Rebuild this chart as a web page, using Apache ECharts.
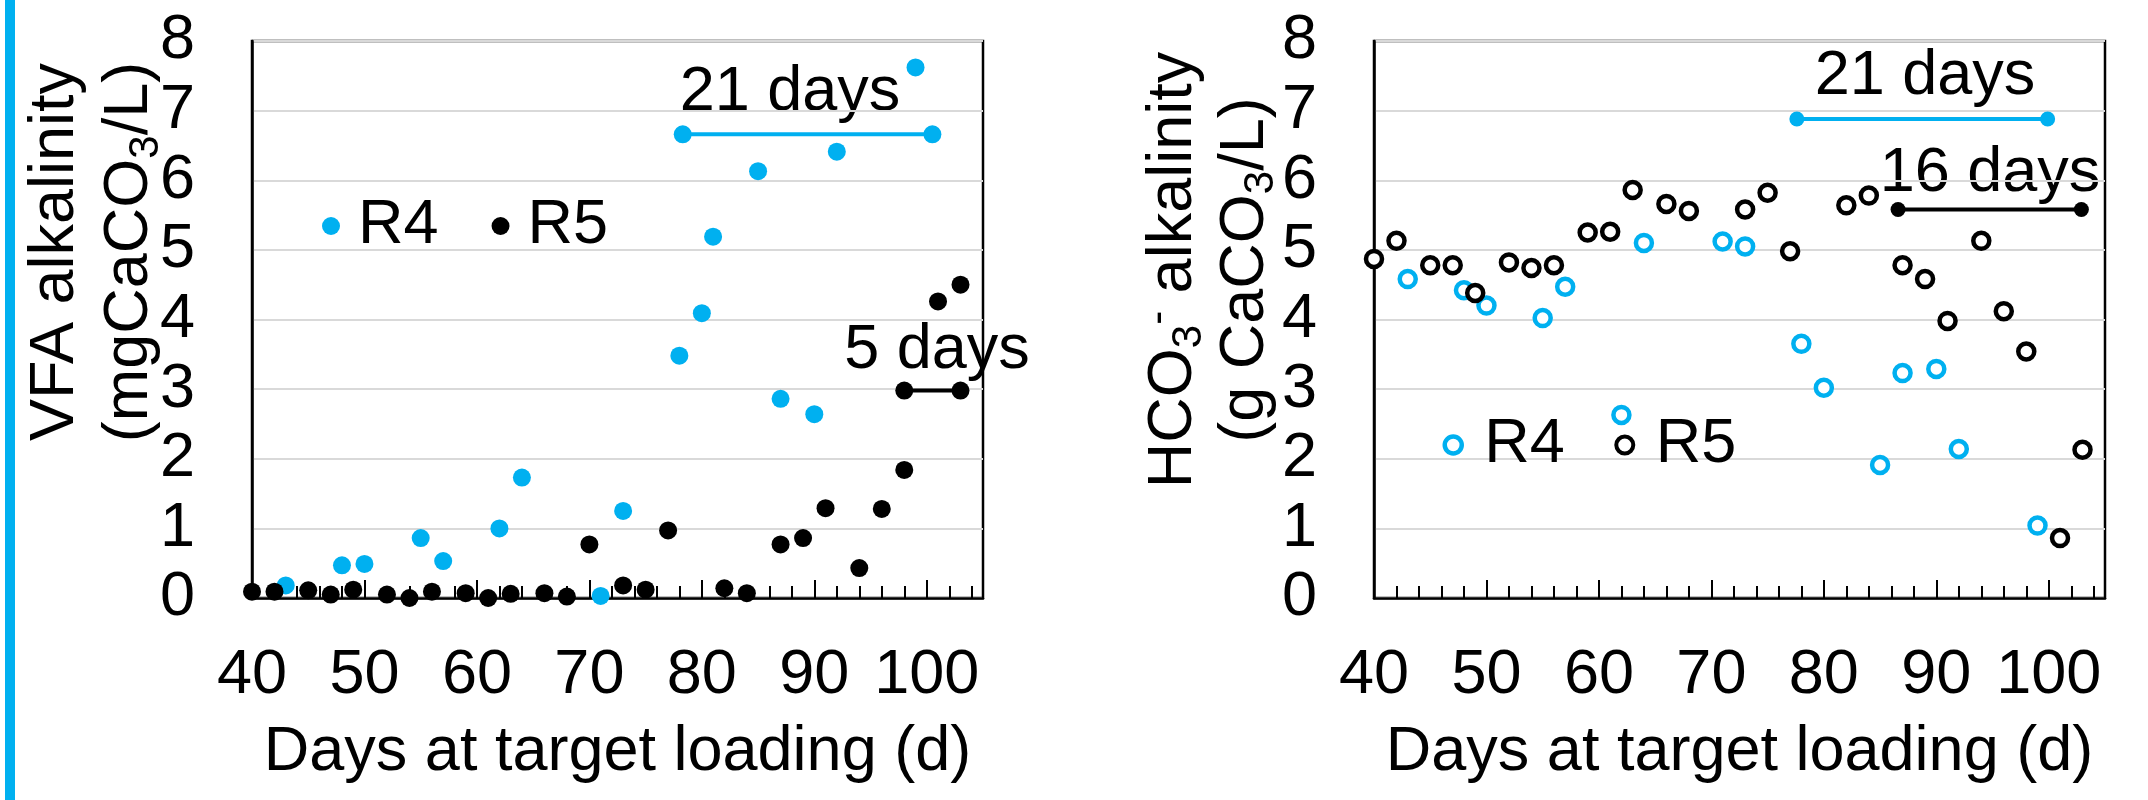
<!DOCTYPE html>
<html>
<head>
<meta charset="utf-8">
<script src="https://cdn.jsdelivr.net/npm/echarts@6/dist/echarts.min.js"></script>
<style>
html, body { margin: 0; padding: 0; background: #fff; }
#chart { width: 2148px; height: 800px; }
</style>
</head>
<body>
<div id="chart"></div>
<script>
var FONT = "'Liberation Sans', Arial, sans-serif";
var BLUE = '#00B0F0';

// left panel: VFA alkalinity, [day, value]
var vfaR4 = [[43, 0.18], [48, 0.47], [50, 0.49], [55, 0.86], [57, 0.53], [62, 1.0], [64, 1.73],
    [71, 0.03], [73, 1.25], [78, 3.48], [80, 4.09], [81, 5.19], [85, 6.13], [87, 2.86],
    [90, 2.64], [92, 6.41], [99, 7.62]];
var vfaR5 = [[40, 0.09], [42, 0.09], [45, 0.11], [47, 0.05], [49, 0.12], [52, 0.05], [54, 0.0],
    [56, 0.09], [59, 0.07], [61, 0.0], [63, 0.06], [66, 0.07], [68, 0.02], [70, 0.77],
    [73, 0.18], [75, 0.12], [77, 0.97], [82, 0.14], [84, 0.07], [87, 0.77], [89, 0.86],
    [91, 1.29], [94, 0.43], [96, 1.28], [98, 1.84], [101, 4.26], [103, 4.5]];
var vfaR4Span = [[78.3, 6.66], [100.5, 6.66]];   // "21 days"
var vfaR5Span = [[98, 2.98], [103, 2.98]];       // "5 days"

// right panel: HCO3- alkalinity, [day, value]
var hcoR4 = [[43, 4.58], [48, 4.42], [50, 4.20], [55, 4.02], [57, 4.47], [62, 2.63], [64, 5.10],
    [71, 5.12], [73, 5.05], [78, 3.65], [80, 3.02], [85, 1.91], [87, 3.23], [90, 3.29],
    [92, 2.14], [99, 1.04]];
var hcoR5 = [[40, 4.87], [42, 5.13], [45, 4.78], [47, 4.78], [49, 4.38], [52, 4.82], [54, 4.74],
    [56, 4.78], [59, 5.25], [61, 5.26], [63, 5.86], [66, 5.66], [68, 5.56], [73, 5.58],
    [75, 5.82], [77, 4.98], [82, 5.64], [84, 5.78], [87, 4.78], [89, 4.58], [91, 3.98],
    [94, 5.13], [96, 4.12], [98, 3.54], [101, 0.86], [103, 2.13]];
var hcoR4Span = [[77.6, 6.88], [99.9, 6.88]];    // "21 days"
var hcoR5Span = [[86.6, 5.58], [102.9, 5.58]];   // "16 days"

var dayMin = 40, dayMax = 105, dayStep = 10, dayMinorStep = 2;
var alkMin = 0, alkMax = 8;

function dayAxis(grid) {
    return {
        type: 'value', gridIndex: grid, position: 'bottom',
        min: dayMin, max: dayMax, interval: dayStep,
        name: 'Days at target loading (d)', nameLocation: 'middle', nameGap: 123,
        nameTextStyle: { fontSize: 63, fontFamily: FONT, color: '#000' },
        axisLine: { show: true, onZero: false, lineStyle: { color: '#000', width: 2.5 } },
        axisTick: { show: true, inside: true, length: 18, lineStyle: { color: '#000', width: 2 } },
        axisLabel: { fontSize: 63, fontFamily: FONT, color: '#000', margin: 46, showMaxLabel: false },
        splitLine: { show: false }
    };
}
// second axis only for the small 2-day ticks
function dayMinorAxis(grid) {
    return {
        type: 'value', gridIndex: grid, position: 'bottom',
        min: dayMin, max: dayMax, interval: dayMinorStep,
        axisLine: { show: false, onZero: false },
        axisTick: { show: true, inside: true, length: 12, lineStyle: { color: '#000', width: 2 } },
        axisLabel: { show: false },
        splitLine: { show: false }
    };
}
function alkAxis(grid) {
    return {
        type: 'value', gridIndex: grid, min: alkMin, max: alkMax, interval: 1,
        axisLine: { show: true, onZero: false, lineStyle: { color: '#000', width: 2.5 } },
        axisTick: { show: false },
        axisLabel: { fontSize: 63, fontFamily: FONT, color: '#000', margin: 57 },
        splitLine: { lineStyle: { color: '#D9D9D9', width: 2 } }
    };
}

function dots(name, data, xi, yi, style, size) {
    style.opacity = 1;
    return { type: 'scatter', name: name, data: data, xAxisIndex: xi, yAxisIndex: yi,
        symbol: 'circle', symbolSize: size, itemStyle: style, z: 3 };
}
function span(data, xi, yi, color, size) {
    return { type: 'line', data: data, xAxisIndex: xi, yAxisIndex: yi, silent: true,
        symbol: 'circle', symbolSize: size, showSymbol: true,
        itemStyle: { color: color, opacity: 1 }, lineStyle: { color: color, width: 4 }, z: 4 };
}

function yTitle(x, y, text, lh) {
    return {
        type: 'text', x: x, y: y, rotation: Math.PI / 2,
        style: {
            text: text, align: 'center', verticalAlign: 'middle',
            rich: {
                m: { fontSize: 63, fontFamily: FONT, lineHeight: lh, fill: '#000' },
                sub: { fontSize: 42, fontFamily: FONT, lineHeight: 34, verticalAlign: 'bottom', fill: '#000' },
                sup: { fontSize: 42, fontFamily: FONT, lineHeight: 64, verticalAlign: 'top', fill: '#000' }
            }
        }
    };
}
function note(x, y, text) {
    return { type: 'text', x: x, y: y,
        style: { text: text, fontSize: 63, fontFamily: FONT, fill: '#000', align: 'center', verticalAlign: 'middle' } };
}

var chart = echarts.init(document.getElementById('chart'), null, { renderer: 'canvas' });
chart.setOption({
    animation: false,
    backgroundColor: '#fff',
    textStyle: { fontFamily: FONT },
    grid: [
        { left: 252, top: 41, width: 731, height: 557, show: true, borderColor: '#000', borderWidth: 2.5, outerBoundsMode: 'none' },
        { left: 1374, top: 41, width: 731, height: 557, show: true, borderColor: '#000', borderWidth: 2.5, outerBoundsMode: 'none' }
    ],
    xAxis: [dayAxis(0), dayMinorAxis(0), dayAxis(1), dayMinorAxis(1)],
    yAxis: [alkAxis(0), alkAxis(1)],
    legend: [
        {
            left: 322, top: 194.5, padding: 0, orient: 'horizontal', selectedMode: false,
            itemWidth: 18, itemHeight: 18, itemGap: 53,
            textStyle: { fontSize: 63, fontFamily: FONT, color: '#000', lineHeight: 63, padding: [0, 0, 0, 13] },
            data: [
                { name: 'R4', icon: 'circle', itemStyle: { color: BLUE, borderWidth: 0, opacity: 1 } },
                { name: 'R5', icon: 'circle', itemStyle: { color: '#000', borderWidth: 0, opacity: 1 } }
            ]
        },
        {
            left: 1442.5, top: 413.5, padding: 0, orient: 'horizontal', selectedMode: false,
            itemWidth: 17, itemHeight: 17, itemGap: 49.5,
            textStyle: { fontSize: 63, fontFamily: FONT, color: '#000', lineHeight: 63, padding: [0, 0, 0, 17.5] },
            data: [
                { name: 'R4', icon: 'circle', itemStyle: { color: '#fff', borderColor: BLUE, borderWidth: 4.5, opacity: 1 } },
                { name: 'R5', icon: 'circle', itemStyle: { color: '#fff', borderColor: '#000', borderWidth: 4, opacity: 1 } }
            ]
        }
    ],
    series: [
        dots('R4', vfaR4, 0, 0, { color: BLUE }, 18),
        dots('R5', vfaR5, 0, 0, { color: '#000' }, 18),
        span(vfaR4Span, 0, 0, BLUE, 18),
        span(vfaR5Span, 0, 0, '#000', 18),
        dots('R4', hcoR4, 2, 1, { color: '#fff', borderColor: BLUE, borderWidth: 4.5 }, 16),
        dots('R5', hcoR5, 2, 1, { color: '#fff', borderColor: '#000', borderWidth: 4.5 }, 16),
        span(hcoR4Span, 2, 1, BLUE, 15),
        span(hcoR5Span, 2, 1, '#000', 15)
    ],
    graphic: [
        { type: 'rect', shape: { x: 5, y: 0, width: 10, height: 800 }, style: { fill: BLUE } },
        yTitle(93, 252, '{m|VFA alkalinity}\n{m|(mgCaCO}{sub|3}{m|/L)}', 74),
        yTitle(1210, 270, '{m|HCO}{sub|3}{sup|-}{m| alkalinity}\n{m|(g CaCO}{sub|3}{m|/L)}', 72),
        note(790, 93, '21 days'),
        note(937, 351, '5 days'),
        note(1925, 77, '21 days'),
        note(1990, 174, '16 days')
    ]
});
</script>
</body>
</html>
